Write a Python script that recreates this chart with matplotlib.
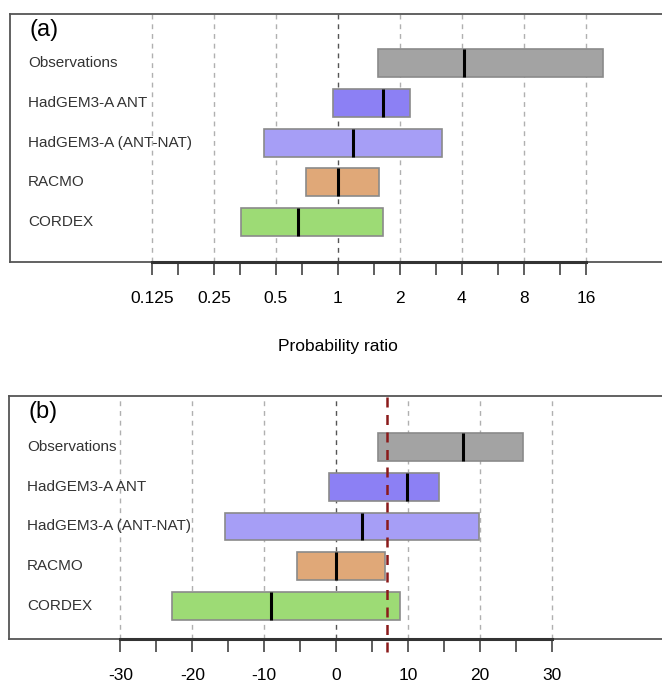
"""
Attribution summary: probability ratio (a) and change in intensity (b).
"""

import numpy as np
import matplotlib
matplotlib.use("Agg")
import matplotlib.pyplot as plt
import matplotlib.transforms as mtransforms

plt.rcParams["font.family"] = ["Liberation Sans", "DejaVu Sans"]

LABELS = ["Observations", "HadGEM3-A ANT", "HadGEM3-A (ANT-NAT)", "RACMO", "CORDEX"]
COLORS = ["#a3a3a3", "#8c80f4", "#a69ef6", "#e0a878", "#9ddb75"]

# panel (a): probability ratio
PR_LOW = [1.56, 0.95, 0.44, 0.70, 0.34]
PR_BEST = [4.09, 1.66, 1.19, 1.00, 0.64]
PR_HIGH = [19.3, 2.24, 3.2, 1.58, 1.65]
PR_TICKS = [0.125, 0.25, 0.5, 1, 2, 4, 8, 16]
PR_TICK_LABELS = ["0.125", "0.25", "0.5", "1", "2", "4", "8", "16"]
PR_MINOR = [1 / 6, 1 / 3, 2 / 3, 1.5, 3, 6, 12]

# panel (b): change in intensity
DI_LOW = [5.75, -1.06, -15.5, -5.5, -22.8]
DI_BEST = [17.6, 9.8, 3.6, 0.0, -9.0]
DI_HIGH = [26.0, 14.3, 19.8, 6.75, 8.85]
DI_TICKS = [-30, -20, -10, 0, 10, 20, 30]
DI_MINOR = [-25, -15, -5, 5, 15, 25]
EVENT_VALUE = 7.0

W, H = 662, 687
BAR_H = 0.7


def px_axes(left, top, right, bottom):
    return [left / W, 1 - bottom / H, (right - left) / W, (bottom - top) / H]


def draw_panel(ax, low, best, high, ticks, tick_labels, minor, ylim, tag, ref):
    y = np.arange(len(LABELS))[::-1] + 1
    low = np.array(low)
    high = np.array(high)

    for t in ticks:
        ax.axvline(t, color="#555555" if t == ref else "#b0b0b0",
                   linestyle=(0, (3.5, 3.5)), linewidth=1.0, zorder=1)

    ax.barh(y, high - low, left=low, height=BAR_H, color=COLORS,
            edgecolor="#8a8a8a", linewidth=1.2, zorder=2)
    ax.vlines(best, y - BAR_H / 2, y + BAR_H / 2, color="black",
              linewidth=2.2, zorder=3)

    trans = mtransforms.blended_transform_factory(ax.transAxes, ax.transData)
    for yy, lab in zip(y, LABELS):
        ax.text(18 / 680, yy, lab, transform=trans, ha="left", va="center",
                fontsize=11, color="#333333")
    ax.text(19 / 680, 1 - 16 / ax.bbox.height, tag, transform=ax.transAxes,
            ha="left", va="center", fontsize=17)

    ax.set_ylim(*ylim)
    ax.set_yticks([])
    ax.set_xticks(ticks)
    ax.set_xticklabels(tick_labels)
    ax.set_xticks(minor, minor=True)
    ax.xaxis.set_minor_formatter(plt.NullFormatter())
    ax.tick_params(axis="x", which="both", direction="out", length=9,
                   width=1.1, color="#333333", labelsize=12.5, pad=12)
    for s in ax.spines.values():
        s.set_color("#555555")
        s.set_linewidth(1.3)

    # axis line spanning the labelled range only
    tr = mtransforms.blended_transform_factory(ax.transData, ax.transAxes)
    ax.plot([ticks[0], ticks[-1]], [0, 0], color="#333333", linewidth=2.2,
            transform=tr, clip_on=False, zorder=5)


def main():
    fig = plt.figure(figsize=(W / 100, H / 100), dpi=100)

    ax_a = fig.add_axes(px_axes(10, 14, 690, 262))
    ax_a.set_xscale("log")
    ax_a.set_xlim(2 ** -5.29, 2 ** 5.68)
    draw_panel(ax_a, PR_LOW, PR_BEST, PR_HIGH, PR_TICKS, PR_TICK_LABELS,
               PR_MINOR, (0.0, 6.23), "(a)", 1)
    fig.text(338 / W, 1 - 346 / H, "Probability ratio", ha="center",
             va="center", fontsize=12.5)

    ax_b = fig.add_axes(px_axes(9, 396, 690, 639))
    ax_b.set_xlim(-45.5, 49.2)
    draw_panel(ax_b, DI_LOW, DI_BEST, DI_HIGH, DI_TICKS,
               [str(t) for t in DI_TICKS], DI_MINOR, (0.17, 6.28), "(b)", 0)
    tr = mtransforms.blended_transform_factory(ax_b.transData, ax_b.transAxes)
    ax_b.plot([EVENT_VALUE, EVENT_VALUE], [-13 / 243, 1], color="#8b1a1a",
              linestyle=(0, (4, 3)), linewidth=1.8, transform=tr,
              clip_on=False, zorder=4)

    fig.savefig("out.png", dpi=100)
    plt.close(fig)


if __name__ == "__main__":
    main()
